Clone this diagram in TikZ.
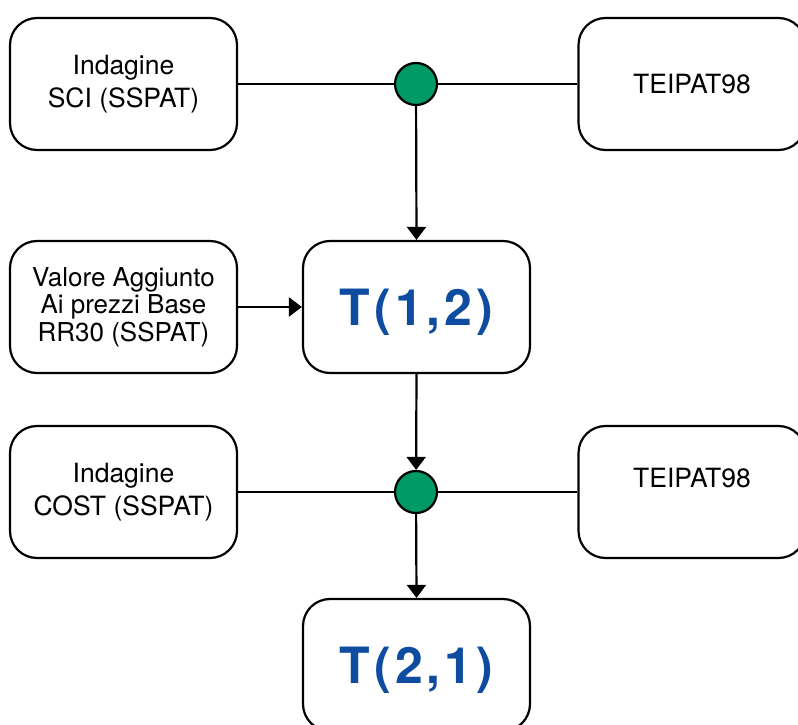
\documentclass[tikz,border=0pt]{standalone}
\usepackage{fontspec}
\setmainfont{TeX Gyre Heros}
\usetikzlibrary{arrows.meta, positioning}

\definecolor{tblue}{RGB}{14,76,160}
\definecolor{jgreen}{RGB}{0,154,102}

\tikzset{
  box/.style={draw, line width=2.2pt, rounded corners=27pt,
    minimum width=227pt, minimum height=132pt, align=center,
    font=\fontsize{26.5}{33}\selectfont},
  table/.style={box, text=tblue, text depth=0pt,
    font=\fontsize{50}{60}\selectfont\bfseries\addfontfeature{LetterSpace=8}},
  junction/.style={circle, draw, line width=2.2pt, fill=jgreen,
    minimum size=42pt, inner sep=0pt},
  link/.style={line width=2.2pt},
  flow/.style={link, -{Triangle[length=13pt,width=19pt]}}
}

\begin{document}
\begin{tikzpicture}[x=1pt,y=1pt]
\clip (0,0) rectangle (798,724);
\useasboundingbox (0,0) rectangle (798,724);
%first row: sources merged into T(1,2)
\node[box] (sci) at (123.5,640) {Indagine\\SCI (SSPAT)};
\node[box] (teiA) at (692,640) {TEIPAT98};
\node[junction] (jA) at (416,640) {};
\draw[link] (sci.east) -- (jA);
\draw[link] (jA) -- (teiA.west);
%middle row
\node[table] (t12) at (416.5,417) {T(1,2)};
\node[box, font=\fontsize{26}{27.5}\selectfont] (va) at (123.5,417)
  {Valore Aggiunto\\Ai prezzi Base\\RR30 (SSPAT)};
\draw[flow] (jA) -- (t12.north);
\draw[flow] (va.east) -- (t12.west);
%second row: sources merged into T(2,1)
\node[box] (cost) at (123.5,232) {Indagine\\COST (SSPAT)};
\node[box, label={[yshift=14pt,font=\fontsize{26.5}{33}\selectfont]center:TEIPAT98}] (teiB) at (692,232) {};
\node[junction] (jB) at (416,232) {};
\draw[link] (cost.east) -- (jB);
\draw[link] (jB) -- (teiB.west);
\draw[flow] (t12.south) -- (jB);
%bottom
\node[table] (t21) at (416.5,59) {T(2,1)};
\draw[flow] (jB) -- (t21.north);
\end{tikzpicture}
\end{document}
